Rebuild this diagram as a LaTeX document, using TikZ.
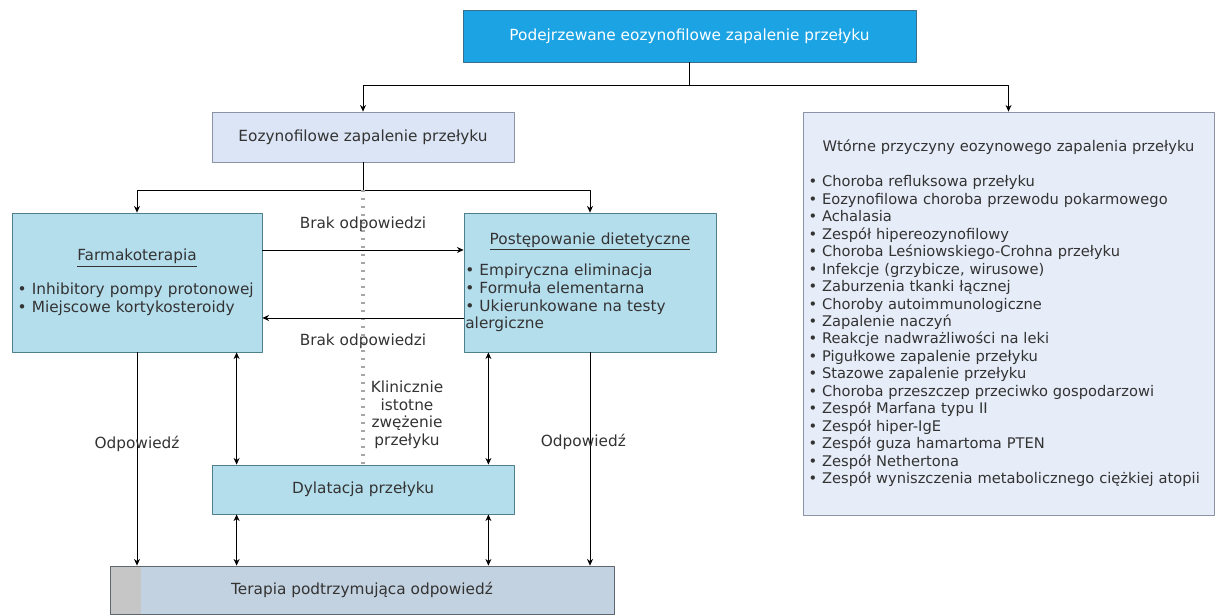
\documentclass[tikz,border=0pt]{standalone}
\usepackage{fontspec}
\setmainfont{DejaVu Sans}
\usetikzlibrary{arrows.meta,calc}
\definecolor{topblue}{HTML}{1CA3E3}
\definecolor{topedge}{HTML}{3A6F8C}
\definecolor{palefill}{HTML}{DCE5F5}
\definecolor{paleedge}{HTML}{8A94A6}
\definecolor{cyanfill}{HTML}{B5DEED}
\definecolor{cyanedge}{HTML}{4F7F8C}
\definecolor{terfill}{HTML}{C3D2E0}
\definecolor{teredge}{HTML}{5F666E}
\definecolor{sidefill}{HTML}{E6ECF8}
\definecolor{txt}{HTML}{333333}
\tikzset{topbx/.style={draw=topedge,fill=topblue,text=white,inner sep=0pt},
  palebx/.style={draw=paleedge,fill=palefill,text=txt,inner sep=0pt},
  cyanbx/.style={draw=cyanedge,fill=cyanfill,text=txt,inner sep=0pt},
  lab/.style={text=txt},
  dotln/.style={gray!70,dash pattern=on 0.9pt off 5.1pt,line width=3pt}}

\begin{document}
\begin{tikzpicture}[x=0.75pt,y=-0.75pt,>={Stealth[length=5pt,width=4.5pt]},line width=0.6pt,line join=round,font=\fontsize{11.5}{13.3}\selectfont]
\useasboundingbox (0,0) rectangle (1216,616);
% --- boxes
\node[topbx,minimum width=339.75pt,minimum height=39pt] (susp) at (689.5,36) {Podejrzewane eozynofilowe zapalenie przełyku};
\node[palebx,minimum width=226.5pt,minimum height=37.5pt] (eoe) at (363,137) {Eozynofilowe zapalenie przełyku};
\node[cyanbx,minimum width=187.5pt,minimum height=104.25pt,text width=179pt,inner xsep=4.25pt] (farm) at (137,282.5)
  {\centering\underline{Farmakoterapia}\par\vspace{12pt}\raggedright • Inhibitory pompy protonowej\\• Miejscowe kortykosteroidy};
\node[cyanbx,minimum width=189pt,minimum height=104.25pt,text width=187pt,inner xsep=1pt] (diet) at (590,282.5)
  {\centering\underline{Postępowanie dietetyczne}\par\vspace{10pt}\raggedright • Empiryczna eliminacja\\• Formuła elementarna\\• Ukierunkowane na testy\\alergiczne};
\node[cyanbx,minimum width=226.5pt,minimum height=36.75pt] (dil) at (363,489.5) {Dylatacja przełyku};
\node[draw=teredge,fill=terfill,text=txt,inner sep=0pt,minimum width=378pt,minimum height=36pt,
  path picture={\fill[gray!45] (path picture bounding box.north west) rectangle ([xshift=23pt]path picture bounding box.south west);}] (ter) at (362,590) {Terapia podtrzymująca odpowiedź};
\node[draw=paleedge,fill=sidefill,text=txt,inner sep=0pt,inner xsep=4pt,minimum width=308.25pt,minimum height=302.25pt,text width=300pt,
  font=\fontsize{11}{13.1}\selectfont] (wt) at (1008.5,313.5)
  {\centering Wtórne przyczyny eozynowego zapalenia przełyku\par\vspace{13pt}\raggedright
  • Choroba refluksowa przełyku\\• Eozynofilowa choroba przewodu pokarmowego\\• Achalasia\\• Zespół hipereozynofilowy\\
  • Choroba Leśniowskiego-Crohna przełyku\\• Infekcje (grzybicze, wirusowe)\\• Zaburzenia tkanki łącznej\\
  • Choroby autoimmunologiczne\\• Zapalenie naczyń\\• Reakcje nadwrażliwości na leki\\• Pigułkowe zapalenie przełyku\\
  • Stazowe zapalenie przełyku\\• Choroba przeszczep przeciwko gospodarzowi\\• Zespół Marfana typu II\\• Zespół hiper-IgE\\
  • Zespół guza hamartoma PTEN\\• Zespół Nethertona\\• Zespół wyniszczenia metabolicznego ciężkiej atopii};
% --- connectors
\draw[->] (susp.south) -- ++(0,23) -| (eoe.north);
\draw[->] (susp.south) -- ++(0,23) -| (wt.north);
\draw (eoe.south) -- ++(0,28) coordinate (split);
\draw[->] (split) -| (farm.north);
\draw[->] (split) -| (diet.north);
\draw[dotln] (split) -- (dil.north)
  node[lab,pos=.818,right,align=center,xshift=1pt]{Klinicznie\\istotne\\zwężenie\\przełyku};
\draw[->] ([yshift=24.4pt]farm.east) -- ([yshift=24.4pt]diet.west) node[lab,midway,above=10pt]{Brak odpowiedzi};
\draw[->] ([yshift=-26.6pt]diet.west) -- ([yshift=-26.6pt]farm.east) node[lab,midway,below=8pt]{Brak odpowiedzi};
\draw[->] (farm.south) -- (farm.south |- ter.north) node[lab,pos=.43]{Odpowiedź};
\draw[->] (diet.south) -- (diet.south |- ter.north) node[lab,pos=.42,xshift=-5pt]{Odpowiedź};
\coordinate (dl) at ([xshift=18.75pt]dil.north west);
\coordinate (dr) at ([xshift=-19.5pt]dil.north east);
\draw[<->] (dl |- farm.south) -- (dl);
\draw[<->] (dr |- diet.south) -- (dr);
\draw[<->] (dl |- dil.south) -- (dl |- ter.north);
\draw[<->] (dr |- dil.south) -- (dr |- ter.north);
\end{tikzpicture}
\end{document}
